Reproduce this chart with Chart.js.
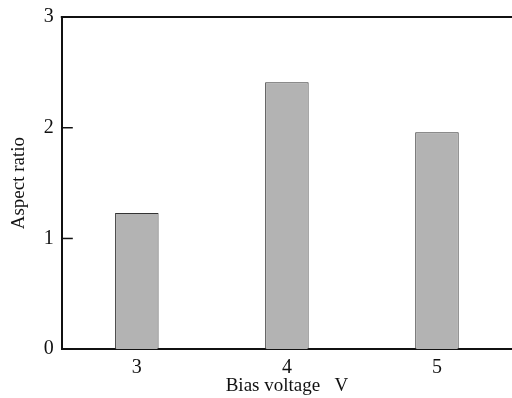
<!DOCTYPE html>
<html>
<head>
<meta charset="utf-8">
<script src="https://cdn.jsdelivr.net/npm/chart.js@4/dist/chart.umd.min.js"></script>
<style>
  html, body { margin: 0; padding: 0; background: #fff; overflow: hidden; }
  #wrap { width: 512px; height: 401px; margin-top: -3px; }
</style>
</head>
<body>
<div id="wrap"><canvas id="barChart"></canvas></div>
<script>
// Data
const biasVoltages = ['3', '4', '5'];        // x categories
const aspectRatios = [1.23, 2.41, 1.96];     // bar heights
const yTicks = [0, 1, 2, 3];                 // y tick labels

const serif = 'Liberation Serif, Times New Roman, serif';

// Draws the top frame line and small inward ticks on the y axis
const frameAndTicks = {
    id: 'frameAndTicks',
    afterDraw(chart) {
        const ctx = chart.ctx;
        const area = chart.chartArea;
        const y = chart.scales.y;
        ctx.save();
        ctx.strokeStyle = '#111';
        ctx.lineWidth = 2;
        ctx.beginPath();
        ctx.moveTo(area.left - 1, area.top);
        ctx.lineTo(area.right, area.top);
        ctx.stroke();
        ctx.lineWidth = 1.5;
        yTicks.forEach(v => {
            const py = y.getPixelForValue(v);
            ctx.beginPath();
            ctx.moveTo(area.left, py);
            ctx.lineTo(area.left + 11, py);
            ctx.stroke();
        });
        ctx.restore();
    }
};

const ctx = document.getElementById('barChart').getContext('2d');
new Chart(ctx, {
    type: 'bar',
    data: {
        labels: biasVoltages,
        datasets: [{
            data: aspectRatios,
            backgroundColor: '#b3b3b3',
            borderColor: '#333',
            borderWidth: 1,
            barPercentage: 0.29,
            categoryPercentage: 1.0
        }]
    },
    options: {
        responsive: true,
        maintainAspectRatio: false,
        animation: false,
        layout: { padding: { top: 0, right: 0, bottom: 1, left: 8 } },
        plugins: {
            legend: { display: false },
            tooltip: { enabled: false }
        },
        scales: {
            x: {
                offset: true,
                grid: { display: false, drawTicks: false },
                border: { display: true, color: '#111', width: 2 },
                ticks: {
                    color: '#111',
                    padding: 7,
                    font: { family: serif, size: 20 }
                },
                title: {
                    display: true,
                    text: 'Bias voltage   V',
                    color: '#111',
                    padding: { top: -13, bottom: 0 },
                    font: { family: serif, size: 19 }
                }
            },
            y: {
                min: 0,
                max: 3,
                afterBuildTicks(scale) {
                    scale.ticks = yTicks.map(v => ({ value: v }));
                },
                grid: { display: false, drawTicks: false },
                border: { display: true, color: '#111', width: 2 },
                ticks: {
                    color: '#111',
                    padding: 8,
                    font: { family: serif, size: 20 }
                },
                title: {
                    display: true,
                    text: 'Aspect ratio',
                    color: '#111',
                    padding: { top: 0, bottom: 5 },
                    font: { family: serif, size: 19 }
                }
            }
        }
    },
    plugins: [frameAndTicks]
});
</script>
</body>
</html>
